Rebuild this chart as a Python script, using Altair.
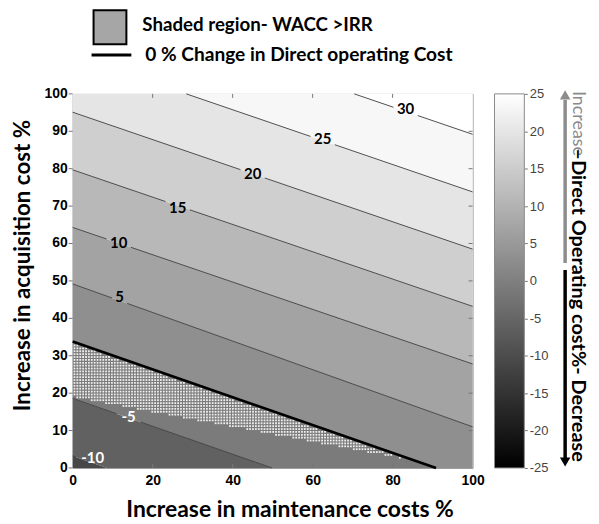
import altair as alt
import numpy as np
import pandas as pd

# ---------------- data ----------------
levels = [-10, -5, 0, 5, 10, 15, 20, 25, 30]
y_left = [3.2, 18.6, 33.8, 49.2, 64.3, 79.7, 95.1, 110.4, 125.7]     # y of contour at x = 0
y_right = [-34.0, -18.7, -3.4, 11.0, 27.8, 43.2, 58.5, 73.8, 89.2]   # y of contour at x = 100

label_levels = [30, 25, 20, 15, 10, 5, -5, -10]
label_x = [83.25, 62.5, 45.0, 26.25, 11.5, 11.75, 14.0, 5.0]
label_y = [96.0, 88.0, 78.7, 69.4, 60.1, 45.7, 13.6, 2.7]

band_names = ["<-10", "-10..-5", "-5..0", "0..5", "5..10", "10..15",
              "15..20", "20..25", "25..30", ">30"]
band_colors = ["#474747", "#616161", "#7b7b7b", "#8f8f8f", "#a3a3a3",
               "#b8b8b8", "#cfcfcf", "#e5e5e5", "#f7f7f7", "#ffffff"]

# lower edge of the WACC > IRR shaded region (upper edge is the 0 % line)
shade_x = [0, 72, 86.4]
shade_y = [19.0, 4.6, 1.7]

x_ticks = [0, 20, 40, 60, 80, 100]
y_ticks = [0, 10, 20, 30, 40, 50, 60, 70, 80, 90, 100]
cbar_ticks = [-25, -20, -15, -10, -5, 0, 5, 10, 15, 20, 25]

legend_text_1 = "Shaded region- WACC >IRR"
legend_text_2 = "0 % Change in Direct operating Cost"
side_text_1 = "Increase"
side_text_2 = " \u2013Direct Operating cost%- Decrease"

W, H = 402, 376


def line_y(i, x):
    return y_left[i] + (y_right[i] - y_left[i]) * np.asarray(x, dtype=float) / 100.0


# sample positions: box edges + where each contour leaves the box
xs = {0.0, 100.0}
for i in range(len(levels)):
    for target in (0.0, 100.0):
        xc = (target - y_left[i]) * 100.0 / (y_right[i] - y_left[i])
        if 0 < xc < 100:
            xs.add(float(xc))
xs = np.array(sorted(xs))

rows = []
for b, name in enumerate(band_names):
    lo = np.zeros_like(xs) if b == 0 else np.clip(line_y(b - 1, xs), 0, 100)
    hi = np.full_like(xs, 100.0) if b == len(band_names) - 1 else np.clip(line_y(b, xs), 0, 100)
    for xv, l, h in zip(xs, lo, hi):
        rows.append({"band": name, "x": xv, "ylow": l, "yhigh": h})
band_df = pd.DataFrame(rows)

# contour line segments, broken where a label sits
seg_rows = []
for i, lev in enumerate(levels):
    slope = (y_right[i] - y_left[i]) / 100.0
    xa = max(0.0, (100 - y_left[i]) / slope)
    xb = min(100.0, (0 - y_left[i]) / slope)
    pieces = [(xa, xb)]
    if lev in label_levels:
        lx = label_x[label_levels.index(lev)]
        half = (4.6 * len(str(lev)) + 3) / 4.02
        pieces = [(xa, lx - half), (lx + half, xb)]
    for k, (p, q) in enumerate(pieces):
        if q > p:
            for xv in (p, q):
                seg_rows.append({"level": lev, "seg": f"{lev}_{k}", "x": xv, "y": float(line_y(i, xv))})
seg_df = pd.DataFrame(seg_rows)
thin_df = seg_df[seg_df.level != 0]
zero_df = seg_df[seg_df.level == 0]

# dot grid of the shaded region
gx = np.arange(0.45, 100, 0.72)
gy = np.arange(0.40, 100, 0.77)
GX, GY = np.meshgrid(gx, gy)
mask = (GY >= np.interp(GX, shade_x, shade_y)) & (GY <= line_y(2, GX) - 0.55) & (GX <= shade_x[-1])
dots_df = pd.DataFrame({"x": GX[mask], "y": GY[mask]})

lab_df = pd.DataFrame({"x": label_x, "y": label_y, "t": [str(v) for v in label_levels]})
lab_dark = lab_df[[v > 0 for v in label_levels]]
lab_light = lab_df[[v < 0 for v in label_levels]]

one = pd.DataFrame({"k": [0]})

xsc = alt.Scale(domain=[0, 100], nice=False, zero=False)
ysc = alt.Scale(domain=[0, 100], nice=False, zero=False)

x_axis = alt.Axis(values=x_ticks, ticks=False, domain=False, grid=False, labelFlush=False,
                  labelOverlap=False,
                  labelFont="Liberation Sans", labelFontSize=14, labelFontWeight="bold",
                  labelColor="black", labelPadding=6,
                  title="Increase in maintenance costs %", titleFont="Lato", titleFontSize=23,
                  titleFontWeight="bold", titleColor="black", titleX=218, titleY=42,
                  titleBaseline="middle", titleAlign="center")
y_axis = alt.Axis(labels=False, ticks=False, domain=False, grid=False,
                  title="Increase in acquisition cost %", titleFont="Lato", titleFontSize=22.5,
                  titleFontWeight="bold", titleColor="black", titleX=-50, titleY=172,
                  titleBaseline="middle", titleAlign="center", titleAngle=-90)

bands = alt.Chart(band_df).mark_area(opacity=1).encode(
    x=alt.X("x:Q", scale=xsc, axis=x_axis),
    y=alt.Y("ylow:Q", scale=ysc, axis=y_axis),
    y2="yhigh:Q",
    color=alt.Color("band:N", scale=alt.Scale(domain=band_names, range=band_colors), legend=None),
)

dots = alt.Chart(dots_df).mark_square(size=3.2, color="#efefef", opacity=1).encode(
    x=alt.X("x:Q", scale=xsc), y=alt.Y("y:Q", scale=ysc))

thin = alt.Chart(thin_df).mark_line(color="#3c3c3c", strokeWidth=0.9).encode(
    x=alt.X("x:Q", scale=xsc), y=alt.Y("y:Q", scale=ysc), detail="seg:N")

zero = alt.Chart(zero_df).mark_line(color="black", strokeWidth=2.6).encode(
    x=alt.X("x:Q", scale=xsc), y=alt.Y("y:Q", scale=ysc), detail="seg:N")

labels_dark = alt.Chart(lab_dark).mark_text(font="Lato", fontSize=15, fontWeight="bold",
                                            color="black").encode(
    x=alt.X("x:Q", scale=xsc), y=alt.Y("y:Q", scale=ysc), text="t:N")
labels_light = alt.Chart(lab_light).mark_text(font="Lato", fontSize=15, fontWeight="bold",
                                              color="white").encode(
    x=alt.X("x:Q", scale=xsc), y=alt.Y("y:Q", scale=ysc), text="t:N")

# y tick labels and ticks (left, outward) + inward ticks on the other sides
ytick_df = pd.DataFrame({"y": y_ticks, "t": [str(v) for v in y_ticks]})
ylabels = alt.Chart(ytick_df).mark_text(align="right", baseline="middle", font="Liberation Sans",
                                        fontSize=14, fontWeight="bold", color="black").encode(
    x=alt.value(-5), y=alt.Y("y:Q", scale=ysc), text="t:N")
ticks_left = alt.Chart(ytick_df).mark_rule(color="#777", strokeWidth=1).encode(
    y=alt.Y("y:Q", scale=ysc), x=alt.value(-4), x2=alt.value(0))
tick_df_x = pd.DataFrame({"x": x_ticks[1:-1]})
tick_df_y = pd.DataFrame({"y": y_ticks[1:-1]})
ticks_bottom = alt.Chart(tick_df_x).mark_rule(color="#777", strokeWidth=1).encode(
    x=alt.X("x:Q", scale=xsc), y=alt.value(H), y2=alt.value(H - 4))
ticks_top = alt.Chart(tick_df_x).mark_rule(color="#777", strokeWidth=1).encode(
    x=alt.X("x:Q", scale=xsc), y=alt.value(0), y2=alt.value(4))
ticks_right = alt.Chart(tick_df_y).mark_rule(color="#777", strokeWidth=1).encode(
    y=alt.Y("y:Q", scale=ysc), x=alt.value(W), x2=alt.value(W - 4))

# ---- legend above the plot ----
leg_box = alt.Chart(one).mark_rect(fill="#a6a6a6", stroke="black", strokeWidth=2).encode(
    x=alt.value(21), x2=alt.value(54), y=alt.value(-84), y2=alt.value(-50))
leg_line = alt.Chart(one).mark_rule(color="black", strokeWidth=3).encode(
    x=alt.value(19), x2=alt.value(59), y=alt.value(-39))
leg_t1 = alt.Chart(one).mark_text(align="left", baseline="middle", font="Lato", fontSize=18.8,
                                  fontWeight="bold", color="black").encode(
    x=alt.value(70), y=alt.value(-69), text=alt.value(legend_text_1))
leg_t2 = alt.Chart(one).mark_text(align="left", baseline="middle", font="Lato", fontSize=19.2,
                                  fontWeight="bold", color="black").encode(
    x=alt.value(73), y=alt.value(-39), text=alt.value(legend_text_2))

# ---- side annotation ----
side_t1 = alt.Chart(one).mark_text(angle=90, align="left", baseline="middle", font="Lato",
                                   fontSize=18, color="#8a8a8a").encode(
    x=alt.value(508), y=alt.value(-3), text=alt.value(side_text_1))
side_t2 = alt.Chart(one).mark_text(angle=90, align="left", baseline="middle", font="Lato",
                                   fontSize=20, fontWeight="bold", color="black").encode(
    x=alt.value(508), y=alt.value(55), text=alt.value(side_text_2))
arrow_up = alt.Chart(one).mark_rule(color="#8c8c8c", strokeWidth=3.5).encode(
    x=alt.value(495), y=alt.value(6), y2=alt.value(170))
head_up = alt.Chart(one).mark_point(shape="triangle-up", filled=True, size=110, opacity=1,
                                    color="#8c8c8c").encode(x=alt.value(495), y=alt.value(1))
arrow_dn = alt.Chart(one).mark_rule(color="black", strokeWidth=3.5).encode(
    x=alt.value(495), y=alt.value(177), y2=alt.value(366))
head_dn = alt.Chart(one).mark_point(shape="triangle-down", filled=True, size=110, opacity=1,
                                    color="black").encode(x=alt.value(495), y=alt.value(370))

main = alt.layer(bands, dots, thin, zero, labels_dark, labels_light,
                 ylabels, ticks_left, ticks_bottom, ticks_top, ticks_right,
                 leg_box, leg_line, leg_t1, leg_t2,
                 side_t1, side_t2, arrow_up, head_up, arrow_dn, head_dn)

# ---- colour bar ----
grad = alt.LinearGradient(gradient="linear",
                          stops=[alt.GradientStop(color="black", offset=0),
                                 alt.GradientStop(color="white", offset=1)],
                          x1=0, x2=0, y1=1, y2=0)
cb_df = pd.DataFrame({"lo": [cbar_ticks[0]], "hi": [cbar_ticks[-1]]})
cbar = alt.Chart(cb_df).mark_rect(color=grad, stroke="#8a8a8a", strokeWidth=1).encode(
    x=alt.value(424), x2=alt.value(454),
    y=alt.Y("lo:Q", scale=alt.Scale(domain=[cbar_ticks[0], cbar_ticks[-1]], nice=False, zero=False),
            axis=alt.Axis(orient="right", offset=52, values=cbar_ticks, domain=False, grid=False,
                          ticks=True, tickSize=3, tickColor="#777", labelPadding=2,
                          labelFont="Liberation Sans", labelFontSize=13, labelColor="#444",
                          labelFlush=False, labelOverlap=False,
                          labelExpr="'' + datum.value", title=None)),
    y2="hi:Q")

chart = alt.layer(main, cbar).resolve_scale(y="independent").properties(
    width=W, height=H, padding={"left": 4, "top": 0, "right": 3, "bottom": 0}
).configure_view(stroke="#9a9a9a", strokeWidth=1)

chart.save("out.html", embed_options={"renderer": "svg", "actions": False})
